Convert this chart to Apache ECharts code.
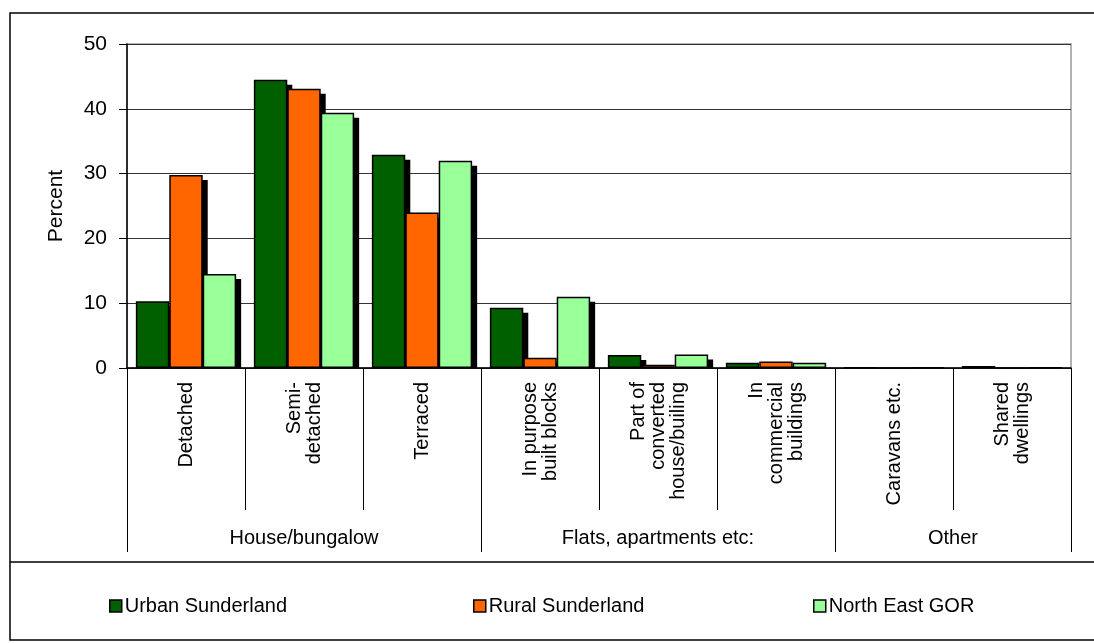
<!DOCTYPE html>
<html>
<head>
<meta charset="utf-8">
<script src="https://cdn.jsdelivr.net/npm/echarts@6/dist/echarts.min.js"></script>
<style>
html,body{margin:0;padding:0;background:#fff;}
#chart{width:1094px;height:643px;}
</style>
</head>
<body>
<div id="chart"></div>
<script>
var categories = ['Detached','Semi-\ndetached','Terraced','In purpose\nbuilt blocks','Part of\nconverted\nhouse/builing','In\ncommercial\nbuildings','Caravans etc.','Shared\ndwellings'];
var groupLabels = ['House/bungalow','Flats, apartments etc:','Other'];
var groupBounds = [0, 3, 6, 8];
var groupCenters = [1.5, 4.5, 7];
var seriesNames = ['Urban Sunderland','Rural Sunderland','North East GOR'];
var urban = [10.3, 44.5, 32.9, 9.3, 2.0, 0.8, 0.05, 0.3];
var rural = [29.8, 43.1, 24.0, 1.6, 0.5, 1.0, 0, 0];
var northEast = [14.5, 39.4, 32.0, 11.0, 2.1, 0.8, 0.05, 0.05];
var yTicks = [0, 10, 20, 30, 40, 50];

var colors = ['#006000', '#FF6600', '#99FF99'];
var font = 'Arial, "Liberation Sans", sans-serif';
var CAT_GAP = 0.15;
var chart = echarts.init(document.getElementById('chart'));

var shadowRows = categories.map(function (c, i) { return [i, urban[i], rural[i], northEast[i]]; });

function barSeries(name, data, color) {
  return {
    name: name, type: 'bar', data: data, z: 2,
    xAxisIndex: 0, yAxisIndex: 0,
    barGap: '0%', barCategoryGap: (CAT_GAP * 100) + '%',
    itemStyle: {color: color, borderColor: '#000', borderWidth: 1.5},
    emphasis: {disabled: true}
  };
}
function legendFor(name, left) {
  return {
    data: [name], left: left, top: 591, orient: 'horizontal',
    itemWidth: 12, itemHeight: 12, icon: 'rect', itemGap: 0,
    itemStyle: {borderColor: '#000', borderWidth: 1.5},
    textStyle: {fontFamily: font, fontSize: 20, color: '#000', padding: [0,0,0,-2]}
  };
}

function renderShadow(params, api) {
  var cat = api.value(0);
  var base = api.coord([cat, 0]);
  var band = api.size([1, 0])[0];
  var barW = band * (1 - CAT_GAP) / 3;
  var start = base[0] - band * (1 - CAT_GAP) / 2;
  var off = 5;
  var children = [];
  for (var k = 0; k < 3; k++) {
    var v = api.value(k + 1);
    var top = api.coord([cat, v])[1];
    var h = base[1] - (top + off);
    if (h <= 0) continue;
    children.push({
      type: 'rect',
      shape: {x: start + k * barW + off, y: top + off, width: barW, height: h},
      style: {fill: '#000'}
    });
  }
  return {type: 'group', children: children};
}

chart.setOption({
  animation: false,
  backgroundColor: '#fff',
  grid: {left: 127, top: 44, width: 944, height: 324, show: true, borderColor: '#999', borderWidth: 1.5, backgroundColor: 'transparent'},
  legend: [legendFor(seriesNames[0], 104), legendFor(seriesNames[1], 468), legendFor(seriesNames[2], 808)],
  graphic: [
    {type: 'rect', shape: {x: 10, y: 13, width: 1100, height: 627}, style: {fill: 'none', stroke: '#000', lineWidth: 1.5}, silent: true, z: 100},
    {type: 'line', shape: {x1: 10, y1: 562, x2: 1094, y2: 562}, style: {stroke: '#000', lineWidth: 1.5}, silent: true, z: 100}
  ],
  xAxis: [
    {
      type: 'category', data: categories, position: 'bottom', z: 10,
      axisLine: {lineStyle: {color: '#000', width: 1.5}},
      axisTick: {show: true, interval: 0, length: 142, lineStyle: {color: '#000', width: 1}},
      axisLabel: {interval: 0, rotate: 90, margin: 14, fontFamily: font, fontSize: 20, lineHeight: 20, color: '#000'},
      splitLine: {show: false}
    },
    {
      type: 'value', min: 0, max: 8, position: 'bottom', z: 10,
      axisLine: {show: false},
      axisTick: {show: true, customValues: groupBounds, length: 184, lineStyle: {color: '#000', width: 1}},
      axisLabel: {customValues: groupCenters, margin: 160, fontFamily: font, fontSize: 20, color: '#000',
        formatter: function (v) { return groupLabels[groupCenters.indexOf(v)]; }},
      splitLine: {show: false}
    }
  ],
  yAxis: {
    type: 'value', min: 0, max: 50, interval: 10,
    name: 'Percent', nameLocation: 'middle', nameRotate: 90, nameGap: 60,
    nameTextStyle: {fontFamily: font, fontSize: 21, color: '#000'},
    axisLine: {show: true, lineStyle: {color: '#000', width: 1.5}},
    axisTick: {show: true, inside: false, length: 8, lineStyle: {color: '#000'}},
    axisLabel: {margin: 20, fontFamily: font, fontSize: 21, color: '#000', customValues: yTicks},
    splitLine: {show: true, lineStyle: {color: '#333', width: 1}}
  },
  series: [
    {
      type: 'custom', name: 'shadow', data: shadowRows, z: 1, silent: true,
      xAxisIndex: 0, yAxisIndex: 0,
      encode: {x: 0, y: [1, 2, 3]},
      renderItem: renderShadow
    },
    barSeries(seriesNames[0], urban, colors[0]),
    barSeries(seriesNames[1], rural, colors[1]),
    barSeries(seriesNames[2], northEast, colors[2])
  ]
});
</script>
</body>
</html>
